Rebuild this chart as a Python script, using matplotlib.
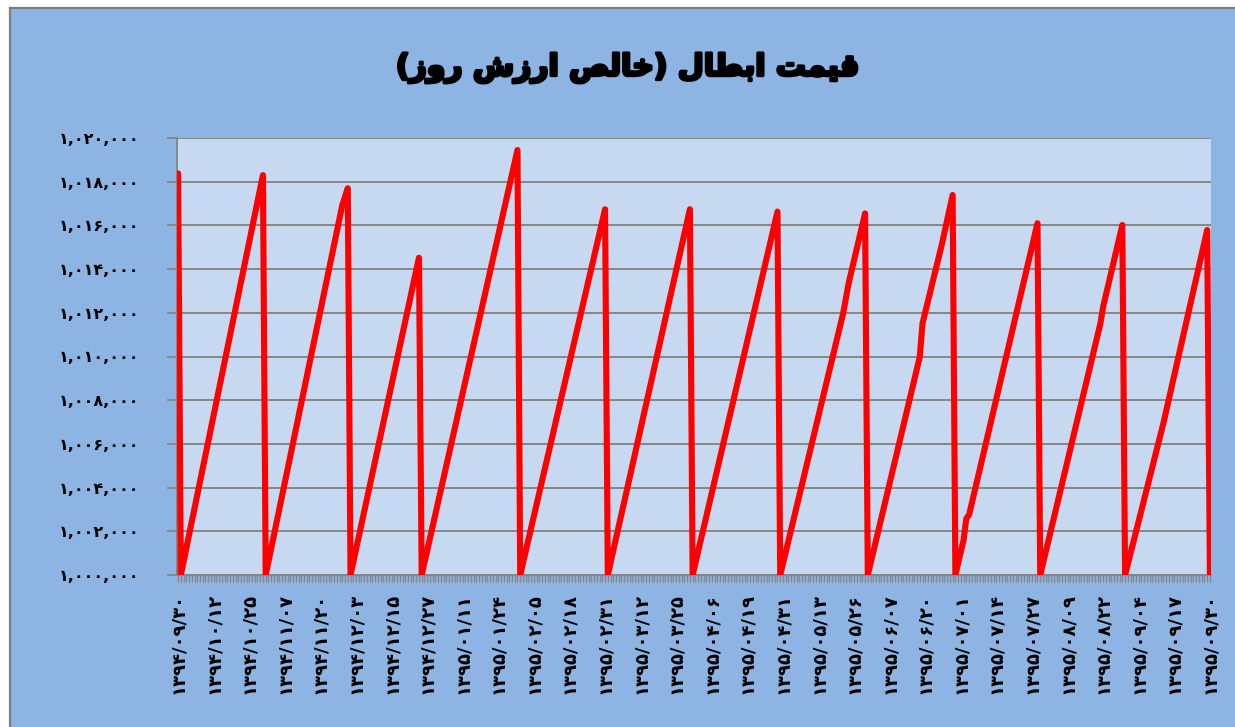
import matplotlib
matplotlib.use("Agg")
import matplotlib.pyplot as plt
import matplotlib.patheffects as pe
from matplotlib.patches import Rectangle
from matplotlib.ticker import FixedLocator, MultipleLocator

# ---------------- data ----------------
title_text = "قیمت ابطال (خالص ارزش روز)"

n_points = 378          # daily observations on the category axis
label_step = 13         # one date label every 13 observations

date_labels = [
    "1394/09/30", "1394/10/12", "1394/10/25", "1394/11/07", "1394/11/20",
    "1394/12/03", "1394/12/15", "1394/12/27", "1395/01/11", "1395/01/24",
    "1395/02/05", "1395/02/18", "1395/02/31", "1395/03/12", "1395/03/25",
    "1395/04/06", "1395/04/19", "1395/04/31", "1395/05/13", "1395/05/26",
    "1395/06/07", "1395/06/20", "1395/07/01", "1395/07/14", "1395/07/27",
    "1395/08/09", "1395/08/22", "1395/09/04", "1395/09/17", "1395/09/30",
]

# observation index of each turning point of the series, and its value
vertex_index = [0, 1, 31, 32, 60, 62, 63, 88, 89, 124, 125, 156, 157, 187, 188,
                219, 220, 243, 245, 251, 252, 271, 272, 279, 283, 284, 287, 288,
                289, 296, 314, 315, 337, 338, 345, 346, 360, 376, 377]
vertex_value = [1018380, 1000000, 1018300, 1000000, 1016930, 1017700, 1000000,
                1014520, 1000000, 1019450, 1000000, 1016740, 1000000, 1016740,
                1000000, 1016630, 1000000, 1011980, 1013350, 1016550, 1000000,
                1009990, 1011520, 1015100, 1017390, 1000000, 1001600, 1002590,
                1002750, 1006480, 1016100, 1000000, 1011520, 1012280, 1016020,
                1000000, 1006940, 1015790, 1000000]

y_ticks = list(range(1000000, 1020001, 2000))

# ---------------- helpers ----------------
FA_DIGITS = str.maketrans("0123456789", "۰۱۲۳۴۵۶۷۸۹")


def fa(s):
    return s.translate(FA_DIGITS)


# contextual forms: isolated, final, initial, medial
FORMS = {
    "ا": (0xFE8D, 0xFE8E, None, None),
    "ب": (0xFE8F, 0xFE90, 0xFE91, 0xFE92),
    "ت": (0xFE95, 0xFE96, 0xFE97, 0xFE98),
    "خ": (0xFEA5, 0xFEA6, 0xFEA7, 0xFEA8),
    "ر": (0xFEAD, 0xFEAE, None, None),
    "ز": (0xFEAF, 0xFEB0, None, None),
    "ش": (0xFEB5, 0xFEB6, 0xFEB7, 0xFEB8),
    "ص": (0xFEB9, 0xFEBA, 0xFEBB, 0xFEBC),
    "ط": (0xFEC1, 0xFEC2, 0xFEC3, 0xFEC4),
    "ق": (0xFED5, 0xFED6, 0xFED7, 0xFED8),
    "ل": (0xFEDD, 0xFEDE, 0xFEDF, 0xFEE0),
    "م": (0xFEE1, 0xFEE2, 0xFEE3, 0xFEE4),
    "و": (0xFEED, 0xFEEE, None, None),
    "ی": (0xFBFC, 0xFBFD, 0xFBFE, 0xFBFF),
}


def shape_rtl(text):
    out = []
    for i, c in enumerate(text):
        if c not in FORMS:
            out.append(c)
            continue
        prev = text[i - 1] if i > 0 else ""
        nxt = text[i + 1] if i + 1 < len(text) else ""
        pj = prev in FORMS and FORMS[prev][2] is not None
        nj = nxt in FORMS and FORMS[c][2] is not None
        iso, fin, ini, med = FORMS[c]
        if pj and nj:
            cp = med
        elif pj:
            cp = fin
        elif nj:
            cp = ini
        else:
            cp = iso
        out.append(chr(cp))
    vis = "".join(reversed(out))
    return vis.translate(str.maketrans("()", ")("))


# ---------------- figure ----------------
OUTER = "#8DB4E2"
INNER = "#C6D9F1"
GRID = "#868686"

fig = plt.figure(figsize=(12.35, 7.27), dpi=100, facecolor="white")
fig.add_artist(Rectangle((10 / 1235, -0.01), 1.02, (727 - 8) / 727 + 0.01,
                         transform=fig.transFigure, facecolor=OUTER,
                         edgecolor="#7F7F7F", linewidth=1.6, zorder=0))

ax = fig.add_axes([177 / 1235, 1 - 575 / 727, (1211 - 177) / 1235, (575 - 138) / 727])
ax.set_facecolor(INNER)

ax.plot(vertex_index, vertex_value, color="#FF0000", linewidth=4.4,
        solid_joinstyle="round", solid_capstyle="round", zorder=3)

ax.set_xlim(-0.4, n_points - 1 + 0.4)
ax.set_ylim(y_ticks[0], y_ticks[-1])

ax.set_yticks(y_ticks)
ax.set_yticklabels([fa(f"{v:,}") for v in y_ticks], fontsize=11.5,
                   fontweight="bold", family="DejaVu Sans")
ax.grid(axis="y", color=GRID, linewidth=1.4, zorder=1)
ax.set_axisbelow(True)

label_pos = list(range(0, n_points, label_step))
ax.xaxis.set_major_locator(FixedLocator(label_pos))
ax.set_xticklabels([fa(d) for d in date_labels], rotation=90, fontsize=13,
                   fontweight="bold", family="DejaVu Sans")
ax.xaxis.set_minor_locator(MultipleLocator(1))

ax.tick_params(axis="y", direction="out", length=7, width=1.3, color=GRID, pad=20)
ax.tick_params(axis="x", which="both", direction="out", length=5, width=0.9,
               color=GRID, pad=8)

for side in ("top", "right"):
    ax.spines[side].set_visible(False)
for side in ("left", "bottom"):
    ax.spines[side].set_color(GRID)
    ax.spines[side].set_linewidth(1.4)

fig.text(628 / 1235, 1 - 68 / 727, shape_rtl(title_text), ha="center", va="center",
         fontsize=21.5, fontweight="bold", family="DejaVu Sans",
         path_effects=[pe.withStroke(linewidth=2.2, foreground="black")])

fig.savefig("out.png", dpi=100, facecolor="white")
